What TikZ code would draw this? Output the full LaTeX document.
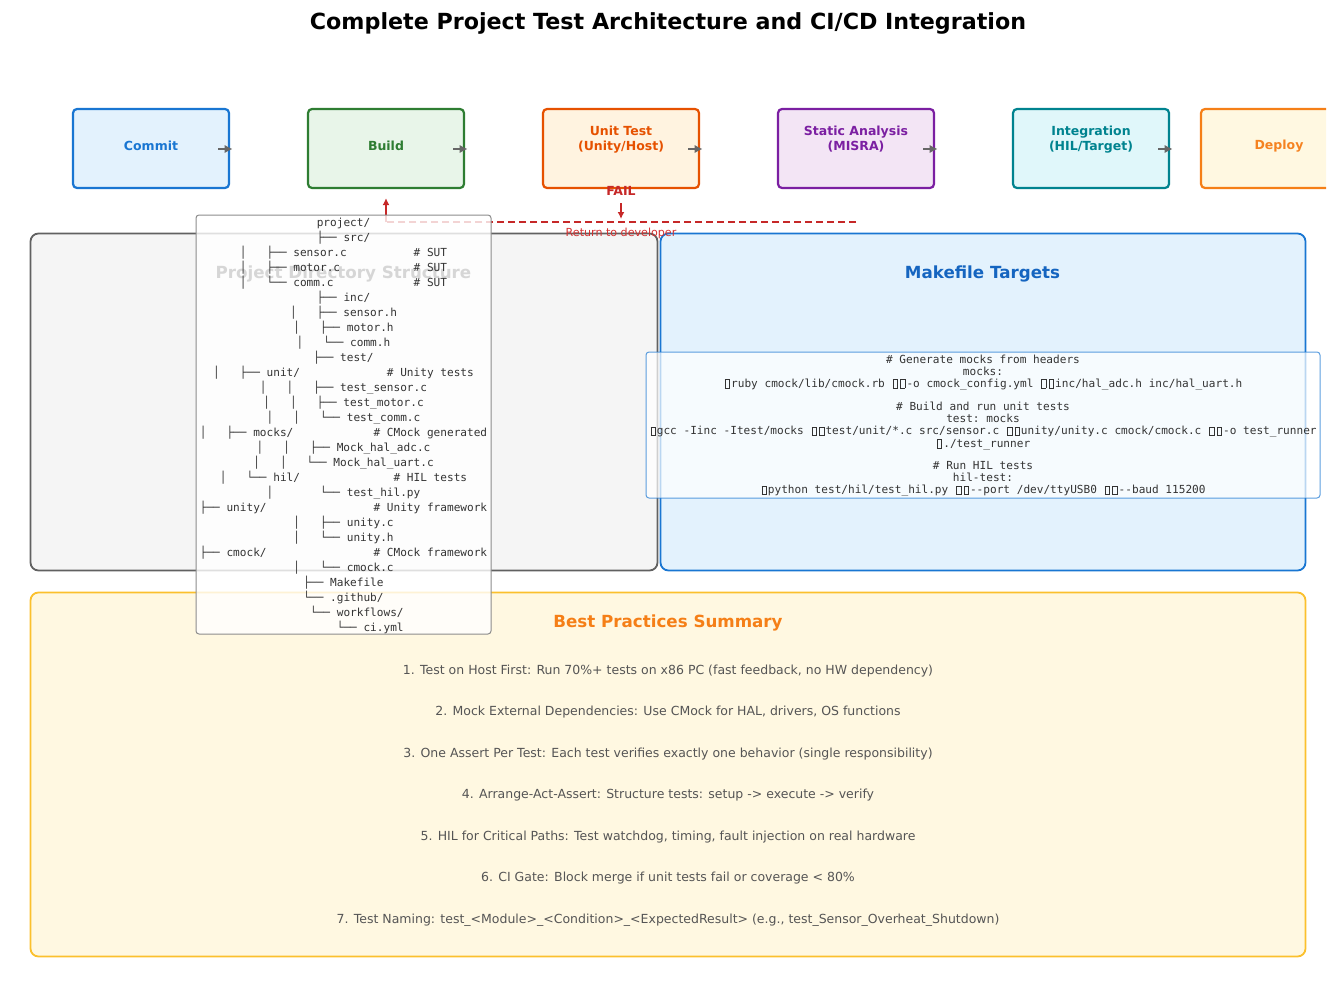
\documentclass[tikz,border=0pt]{standalone}
\usepackage{fontspec}
\setmainfont{DejaVu Sans}
\setmonofont{DejaVu Sans Mono}
\usetikzlibrary{arrows.meta}
\definecolor{commitC}{HTML}{1976D2}\definecolor{commitF}{HTML}{E3F2FD}
\definecolor{buildC}{HTML}{2E7D32}\definecolor{buildF}{HTML}{E8F5E9}
\definecolor{unitC}{HTML}{E65100}\definecolor{unitF}{HTML}{FFF3E0}
\definecolor{staticC}{HTML}{7B1FA2}\definecolor{staticF}{HTML}{F3E5F5}
\definecolor{integC}{HTML}{00838F}\definecolor{integF}{HTML}{E0F7FA}
\definecolor{deployC}{HTML}{F57F17}\definecolor{deployF}{HTML}{FFF8E1}
\definecolor{deployT}{HTML}{F58220}
\definecolor{projC}{HTML}{616161}\definecolor{projF}{HTML}{F5F5F5}\definecolor{projT}{HTML}{333333}
\definecolor{makeT}{HTML}{1565C0}
\definecolor{bestC}{HTML}{FBC02D}\definecolor{bestT}{HTML}{F57F17}\definecolor{bestItem}{HTML}{555555}
\definecolor{codeT}{HTML}{333333}
\definecolor{failC}{HTML}{C62828}\definecolor{retC}{HTML}{D32F2F}
\definecolor{arrowG}{HTML}{666666}
\definecolor{treeB}{HTML}{8C8C8C}
\newcommand\gp[1]{\null\kern#1\fontcharwd\font`0\relax}
\newcommand\tofu{\kern1.25pt\raisebox{-0.5pt}{\setlength\fboxsep{0pt}\setlength\fboxrule{0.6pt}\fbox{\rule{0pt}{8pt}\hspace{3.8pt}}}\kern1.25pt}
\begin{document}
\begin{tikzpicture}[x=1pt,y=-1pt,
  stage/.style={rectangle, rounded corners=4pt, line width=2.2pt, minimum width=156pt, minimum height=79pt, inner sep=0pt},
  stagelabel/.style={inner sep=0pt, align=center, yshift=-1.2pt, font=\bfseries\fontsize{12.5}{15}\selectfont},
  flowarr/.style={-{Latex[length=8pt,width=8.5pt]}, line width=2.2pt, draw=arrowG},
  section/.style={rectangle, rounded corners=8pt, line width=1.8pt, inner sep=0pt},
  sectitle/.style={inner sep=0pt, yshift=-2pt, font=\bfseries\fontsize{16.7}{20}\selectfont, text height=12.5pt, text depth=4.2pt},
  fbline/.style={line width=2pt, draw=failC},
  fbarrow/.style={-{Latex[length=7pt,width=7pt]}, line width=1.8pt, draw=failC},
  treeline/.style={inner sep=0pt, yshift=-2pt, text=codeT, font=\ttfamily\fontsize{11.1}{12}\selectfont, text height=8.3pt, text depth=2.8pt},
  bestline/.style={inner sep=0pt, yshift=-2pt, text=bestItem, font=\fontsize{12.5}{15}\selectfont, text height=9.4pt, text depth=3.1pt}
]
\useasboundingbox (0,0) rectangle (1335,987);

% title
\node[inner sep=0pt, yshift=-2pt, font=\bfseries\fontsize{22.2}{26}\selectfont, text height=16.6pt, text depth=5.6pt] (title) at (668,22) {Complete Project Test Architecture and CI/CD Integration};

% pipeline stages
\node[stage, draw=commitC, fill=commitF] (commit) at (151,148.5) {};
\node[stage, draw=buildC, fill=buildF] (build) at (386,148.5) {};
\node[stage, draw=unitC, fill=unitF] (unit) at (621,148.5) {};
\node[stage, draw=staticC, fill=staticF] (static) at (856,148.5) {};
\node[stage, draw=integC, fill=integF] (integ) at (1091,148.5) {};
\begin{scope}
\clip (0,0) rectangle (1326,987);
\node[stage, draw=deployC, fill=deployF] (deploy) at (1279,148.5) {};
\end{scope}

\node[stagelabel, text=commitC] (commitlbl) at (151,145) {Commit};
\node[stagelabel, text=buildC] (buildlbl) at (386,145) {Build};
\node[stagelabel, text=unitC] (unitlbl) at (621,138) {Unit Test\\(Unity/Host)};
\node[stagelabel, text=staticC] (staticlbl) at (856,138) {Static Analysis\\(MISRA)};
\node[stagelabel, text=integC] (integlbl) at (1091,138) {Integration\\(HIL/Target)};
\node[stagelabel, text=deployT] (deploylbl) at (1279,145) {Deploy};

\foreach \s in {commit,build,unit,static,integ}
  \draw[flowarr] ([xshift=-12pt,yshift=-0.5pt]\s.east) -- ([xshift=2.5pt,yshift=-0.5pt]\s.east);

% sections
\node[section, draw=projC, fill=projF, minimum width=627pt, minimum height=337pt] (proj) at (344,402) {};
\node[section, draw=commitC, fill=commitF, minimum width=645pt, minimum height=337pt] (make) at (983,402) {};
\node[section, draw=bestC, fill=deployF, minimum width=1275pt, minimum height=364pt] (best) at (668,774.5) {};

\node[sectitle, text=projT] (projtitle) at (343.5,272) {Project Directory Structure};
\node[sectitle, text=makeT] (maketitle) at (982.5,272) {Makefile Targets};
\node[sectitle, text=bestT] (besttitle) at (668,621) {Best Practices Summary};

% feedback loop
\coordinate (fbR) at (856,222);
\coordinate (fbL) at (386,222);
\coordinate (fbM) at (621,219);
\draw[fbline, dash pattern=on 7pt off 4pt] (fbR) -- (fbL);
\draw[fbarrow] (fbL) -- ([yshift=-9pt]build.south);
\node[inner sep=0pt, yshift=-1pt, text=failC, font=\bfseries\fontsize{12.5}{15}\selectfont, text height=9.4pt, text depth=3.1pt] (fail) at (621,191) {FAIL};
\draw[fbarrow] ([yshift=-5pt]fail.south) -- (fbM);
\node[inner sep=0pt, yshift=-2pt, text=retC, font=\fontsize{11.1}{13}\selectfont, text height=8.3pt, text depth=2.8pt] (ret) at (621,232) {Return to developer};

% directory tree box
\node[rectangle, rounded corners=3pt, draw=treeB, line width=1pt, fill=white, fill opacity=0.8, minimum width=295pt, minimum height=419pt, inner sep=0pt] (treebox) at (343.5,424.5) {};
\foreach \t [count=\i] in {
  {project/},
  {├── src/},
  {│\gp{3}├── sensor.c\gp{10}\# SUT},
  {│\gp{3}├── motor.c\gp{11}\# SUT},
  {│\gp{3}└── comm.c\gp{12}\# SUT},
  {├── inc/},
  {│\gp{3}├── sensor.h},
  {│\gp{3}├── motor.h},
  {│\gp{3}└── comm.h},
  {├── test/},
  {│\gp{3}├── unit/\gp{13}\# Unity tests},
  {│\gp{3}│\gp{3}├── test\_sensor.c},
  {│\gp{3}│\gp{3}├── test\_motor.c},
  {│\gp{3}│\gp{3}└── test\_comm.c},
  {│\gp{3}├── mocks/\gp{12}\# CMock generated},
  {│\gp{3}│\gp{3}├── Mock\_hal\_adc.c},
  {│\gp{3}│\gp{3}└── Mock\_hal\_uart.c},
  {│\gp{3}└── hil/\gp{14}\# HIL tests},
  {│\gp{7}└── test\_hil.py},
  {├── unity/\gp{16}\# Unity framework},
  {│\gp{3}├── unity.c},
  {│\gp{3}└── unity.h},
  {├── cmock/\gp{16}\# CMock framework},
  {│\gp{3}└── cmock.c},
  {├── Makefile},
  {└── .github/},
  {\gp{4}└── workflows/},
  {\gp{8}└── ci.yml}}
  \node[treeline] (tree\i) at (343.5,{207+15*\i}) {\t};

% makefile code box
\node[rectangle, rounded corners=3pt, draw=commitC, draw opacity=0.7, line width=1pt, fill=white, fill opacity=0.7, minimum width=674pt, minimum height=146pt, inner sep=0pt] (codebox) at (983,425) {};
\node[treeline] (mk1) at (983,358.3) {\# Generate mocks from headers};
\node[treeline] (mk2) at (983,370.3) {mocks:};
\node[treeline] (mk3) at (983,382.3) {\tofu ruby cmock/lib/cmock.rb \tofu\tofu-o cmock\_config.yml \tofu\tofu inc/hal\_adc.h inc/hal\_uart.h};
\node[treeline] (mk5) at (983,406.2) {\# Build and run unit tests};
\node[treeline] (mk6) at (983,418.1) {test: mocks};
\node[treeline] (mk7) at (983,430.2) {\tofu gcc -Iinc -Itest/mocks \tofu\tofu test/unit/*.c src/sensor.c \tofu\tofu unity/unity.c cmock/cmock.c \tofu\tofu-o test\_runner};
\node[treeline] (mk8) at (983,442.4) {\tofu./test\_runner};
\node[treeline] (mk10) at (983,465.2) {\# Run HIL tests};
\node[treeline] (mk11) at (983,477.2) {hil-test:};
\node[treeline] (mk12) at (983,489.2) {\tofu python test/hil/test\_hil.py \tofu\tofu-{}-port /dev/ttyUSB0 \tofu\tofu-{}-baud 115200};

% best practices items
\foreach \t [count=\i] in {
  {1. Test on Host First: Run 70\%+ tests on x86 PC (fast feedback, no HW dependency)},
  {2. Mock External Dependencies: Use CMock for HAL, drivers, OS functions},
  {3. One Assert Per Test: Each test verifies exactly one behavior (single responsibility)},
  {4. Arrange-Act-Assert: Structure tests: setup -> execute -> verify},
  {5. HIL for Critical Paths: Test watchdog, timing, fault injection on real hardware},
  {6. CI Gate: Block merge if unit tests fail or coverage < 80\%},
  {7. Test Naming: test\_<Module>\_<Condition>\_<ExpectedResult> (e.g., test\_Sensor\_Overheat\_Shutdown)}}
  \node[bestline] (bp\i) at (668,{627.5+41.5*\i}) {\t};
\end{tikzpicture}
\end{document}
